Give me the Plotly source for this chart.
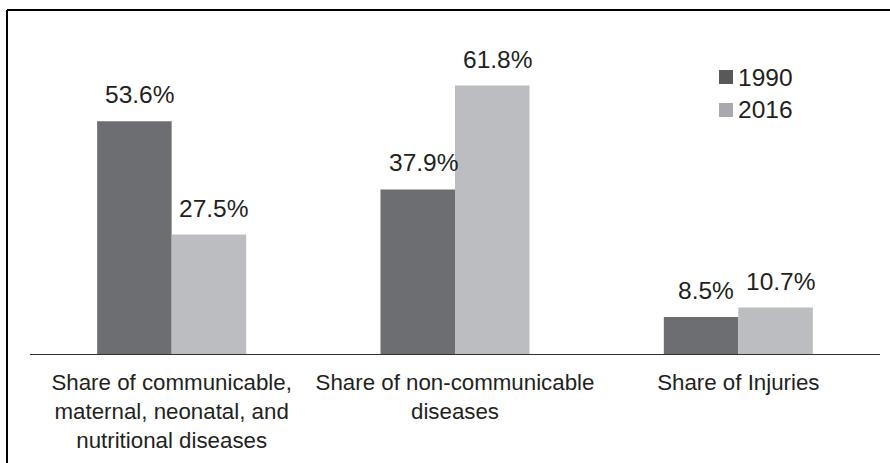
import plotly.graph_objects as go

categories = [
    "Share of communicable,<br>maternal, neonatal, and<br>nutritional diseases",
    "Share of non-communicable<br>diseases",
    "Share of Injuries",
]
series_names = ["1990", "2016"]
values_1990 = [53.6, 37.9, 8.5]
values_2016 = [27.5, 61.8, 10.7]
bar_colors = ["#6d6e71", "#bcbdc0"]
legend_colors = ["#58595b", "#a7a9ac"]

FONT = "Liberation Sans, Arial, sans-serif"
TXT = "#231f20"

fig = go.Figure()
for name, vals, col in zip(series_names, [values_1990, values_2016], bar_colors):
    fig.add_trace(go.Bar(
        name=name, x=categories, y=vals, marker_color=col,
        marker_line_width=0, showlegend=False, offsetgroup=name,
    ))

annotations = []
for i, (vals, shift) in enumerate(zip([values_1990, values_2016], [-37 + 5, 37 + 5])):
    for c, v in zip(categories, vals):
        annotations.append(dict(
            x=c, y=v, xref="x", yref="y", text=f"{v}%", showarrow=False,
            xanchor="center", yanchor="bottom", xshift=shift, yshift=11,
            font=dict(family=FONT, size=24.5, color=TXT),
        ))

# manual legend
shapes = []
leg_y = [77, 110]
for name, col, yy in zip(series_names, legend_colors, leg_y):
    shapes.append(dict(type="rect", xref="paper", yref="paper",
                       x0=(719 - 30) / 850, x1=(733 - 30) / 850,
                       y0=(354 - (yy + 7)) / 304, y1=(354 - (yy - 7)) / 304,
                       fillcolor=col, line_width=0))
    annotations.append(dict(x=(736 - 30) / 850, y=(354 - yy) / 304, xref="paper", yref="paper",
                            text=name, showarrow=False, xanchor="left", yanchor="middle",
                            font=dict(family=FONT, size=24.5, color=TXT)))

# outer frame (top and left edges only are visible)
for x0, y0, x1, y1 in [(7, 10, 895, 10), (7, 10, 7, 470)]:
    shapes.append(dict(type="line", xref="paper", yref="paper",
                       x0=(x0 - 30) / 850, x1=(x1 - 30) / 850,
                       y0=(354 - y0) / 304, y1=(354 - y1) / 304,
                       line=dict(color="#000000", width=2)))

fig.update_layout(
    width=890, height=463,
    margin=dict(l=30, r=10, t=50, b=109, pad=0),
    paper_bgcolor="white", plot_bgcolor="white",
    barmode="group", bargap=0.474, bargroupgap=0,
    font=dict(family=FONT, size=22, color=TXT),
    xaxis=dict(showline=True, linecolor="#333333", linewidth=1.3, ticks="", tickangle=0,
               tickfont=dict(family=FONT, size=22.3, color=TXT), ticklabelstandoff=8),
    yaxis=dict(range=[0, 70], visible=False, showgrid=False, zeroline=False),
    annotations=annotations, shapes=shapes, showlegend=False,
)

fig.write_html("out.html")
